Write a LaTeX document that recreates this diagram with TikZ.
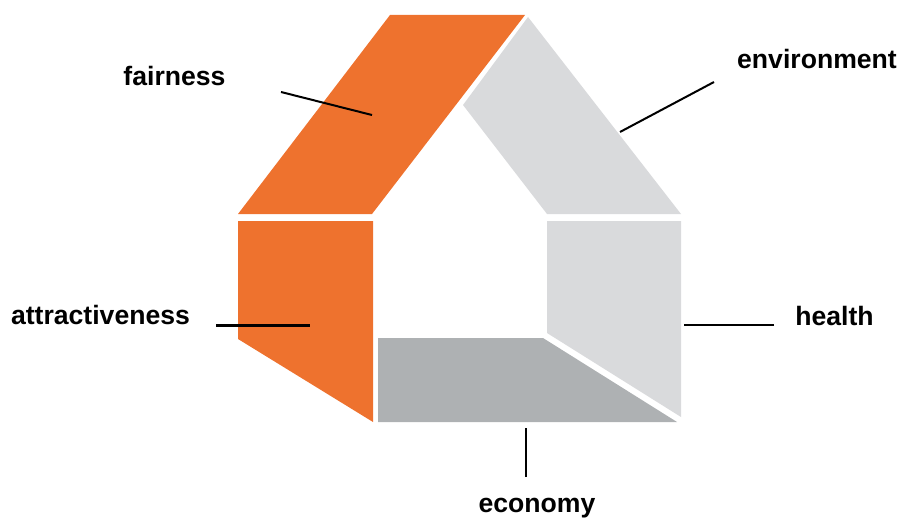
\documentclass[tikz,border=0pt]{standalone}
\usepackage{fontspec}
\setmainfont{Liberation Sans}
\definecolor{houseorange}{HTML}{EE722E}
\definecolor{houselight}{HTML}{D9DADC}
\definecolor{housedark}{HTML}{AEB1B3}
\tikzset{
  lbl/.style={font=\bfseries\fontsize{26.6pt}{30pt}\selectfont, text=black, inner sep=0pt, anchor=base},
  lead/.style={draw=black, line width=2pt}
}
\begin{document}
\begin{tikzpicture}[x=1pt,y=-1pt]
    \useasboundingbox (0,0) rectangle (899,519);
    % Draw the house segments
    \fill[houseorange] (390,15) -- (525,15) -- (372,214) -- (238,214) -- cycle;
    \fill[houselight] (528,17) -- (681,214) -- (547,214) -- (463,105) -- cycle;
    \fill[houseorange] (238,221) -- (373,221) -- (373,422) -- (238,339) -- cycle;
    \fill[houselight] (547,221) -- (681,221) -- (681,417) -- (547,333) -- cycle;
    \fill[housedark] (378,338) -- (543,338) -- (677,422) -- (378,422) -- cycle;

    % Add labels
    \node[lbl] (fairness) at (174.5,85) {fairness};
    \node[lbl] (environment) at (817,68) {environment};
    \node[lbl] (attractiveness) at (100.5,324) {attractiveness};
    \node[lbl] (health) at (834.5,325) {health};
    \node[lbl] (economy) at (537,512.5) {economy};

    % Leader lines
    \coordinate (fairnessStart) at (281,92);
    \coordinate (fairnessEnd) at (372,115);
    \coordinate (environmentStart) at (714,82);
    \coordinate (environmentEnd) at (620,132);
    \coordinate (attractivenessStart) at (216,325);
    \coordinate (attractivenessEnd) at (310,325);
    \coordinate (healthStart) at (774,325);
    \coordinate (healthEnd) at (684,325);
    \coordinate (economyStart) at (526,477);
    \coordinate (economyEnd) at (526,428);
    \draw[lead] (fairnessStart) -- (fairnessEnd);
    \draw[lead] (environmentStart) -- (environmentEnd);
    \draw[lead, line width=3pt] (attractivenessStart) -- (attractivenessEnd);
    \draw[lead] (healthStart) -- (healthEnd);
    \draw[lead] (economyStart) -- (economyEnd);
\end{tikzpicture}
\end{document}
